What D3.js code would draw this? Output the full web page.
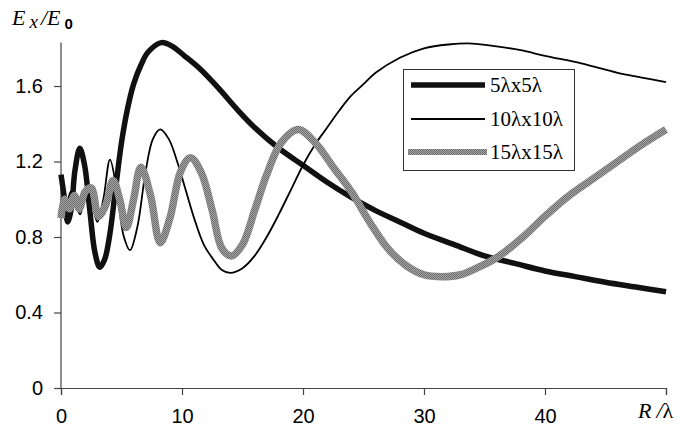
<!DOCTYPE html>
<html>
<head>
<meta charset="utf-8">
<script src="https://cdn.jsdelivr.net/npm/d3@7/dist/d3.min.js"></script>
<style>
  html, body { margin: 0; padding: 0; background: #fff; }
  svg { display: block; }
  .tick text { font-family: Arial, "Liberation Sans", sans-serif; font-size: 20px; fill: #000; }
</style>
</head>
<body>
<svg id="chart" width="684" height="432"></svg>
<script>
// Field ratio Ex/E0 against distance R/λ for three aperture sizes
const r5  = [0, 0.25, 0.55, 0.85, 1.15, 1.55, 1.95, 2.4, 2.8, 3.2, 3.6, 4.0, 4.5, 5.0, 5.5, 6.0, 6.6, 7.2, 8.3, 9.2, 10.2, 11.5, 13.0, 14.5, 16, 18, 20, 22, 24, 26, 28, 30, 32.5, 35, 37.5, 40, 42.5, 45, 47.5, 50];
const e5  = [1.13, 1.02, 0.88, 0.95, 1.15, 1.27, 1.18, 0.93, 0.72, 0.64, 0.68, 0.80, 1.05, 1.30, 1.48, 1.61, 1.71, 1.78, 1.83, 1.81, 1.76, 1.69, 1.59, 1.48, 1.38, 1.27, 1.18, 1.09, 1.01, 0.94, 0.88, 0.82, 0.76, 0.70, 0.66, 0.62, 0.59, 0.56, 0.535, 0.51];

const r10 = [0, 0.4, 0.8, 1.2, 1.6, 2.0, 2.5, 3.0, 3.5, 4.05, 4.6, 5.2, 5.7, 6.3, 7.0, 7.6, 8.2, 8.9, 9.6, 10.3, 11.0, 11.8, 12.6, 13.3, 14.0, 15.0, 16.0, 17.0, 18.0, 19.0, 20.0, 21.0, 22.0, 23.0, 24.0, 25.0, 26.0, 28.0, 30.0, 32.0, 34.0, 36.0, 38.0, 40.0, 43.0, 46.0, 48.0, 50.0];
const e10 = [1.0, 0.96, 1.04, 0.97, 0.92, 1.05, 1.00, 0.88, 1.0, 1.21, 1.05, 0.80, 0.73, 0.85, 1.15, 1.32, 1.37, 1.32, 1.20, 1.05, 0.90, 0.76, 0.68, 0.625, 0.61, 0.635, 0.70, 0.80, 0.92, 1.05, 1.18, 1.29, 1.38, 1.47, 1.55, 1.61, 1.67, 1.75, 1.80, 1.82, 1.825, 1.81, 1.79, 1.76, 1.72, 1.67, 1.645, 1.62];

const r15 = [0, 0.3, 0.7, 1.1, 1.5, 2.0, 2.5, 3.1, 3.7, 4.3, 4.85, 5.4, 6.0, 6.6, 7.4, 8.2, 9.0, 9.9, 10.7, 11.6, 12.5, 13.3, 14.1, 15.0, 16.0, 17.0, 18.2, 19.6, 21.0, 22.5, 24, 25.5, 27, 28.5, 30, 31.5, 33, 34.5, 36, 38, 40, 42, 44, 46, 48, 50];
const e15 = [0.90, 1.00, 0.95, 1.02, 0.95, 1.04, 1.06, 0.91, 0.97, 1.10, 1.00, 0.85, 1.00, 1.17, 1.02, 0.77, 0.90, 1.15, 1.22, 1.14, 0.94, 0.74, 0.70, 0.76, 0.94, 1.13, 1.30, 1.37, 1.30, 1.17, 1.04, 0.88, 0.74, 0.65, 0.60, 0.59, 0.60, 0.64, 0.69, 0.79, 0.91, 1.02, 1.11, 1.20, 1.29, 1.37];

const seriesNames = ["5λx5λ", "10λx10λ", "15λx15λ"];
const xTicks = [0, 10, 20, 30, 40, 50];
const xTickLabels = ["0", "10", "20", "30", "40", ""];
const yTicks = [0, 0.4, 0.8, 1.2, 1.6];
const yTickLabels = ["0", "0.4", "0.8", "1.2", "1.6"];

const svg = d3.select("#chart");

// Textured gray fill for the third curve
const defs = svg.append("defs");
const pat = defs.append("pattern")
  .attr("id", "grayTex").attr("patternUnits", "userSpaceOnUse")
  .attr("width", 2).attr("height", 2);
pat.append("rect").attr("width", 2).attr("height", 2).attr("fill", "#a4a4a4");
pat.append("rect").attr("width", 1).attr("height", 1).attr("fill", "#6e6e6e");
pat.append("rect").attr("x", 1).attr("y", 1).attr("width", 1).attr("height", 1).attr("fill", "#6e6e6e");

const x = d3.scaleLinear().domain([0, 50]).range([61, 666]);
const y = d3.scaleLinear().domain([0, 1.83]).range([388, 42.6]);

const axisColor = "#444";

// X axis
const gx = svg.append("g").attr("transform", `translate(0,${y(0)})`)
  .call(d3.axisBottom(x).tickValues(xTicks).tickSize(7).tickPadding(14)
    .tickFormat((d, i) => xTickLabels[i]));
gx.select(".domain").attr("stroke", axisColor).attr("stroke-width", 1.2);
gx.selectAll(".tick line").attr("stroke", axisColor).attr("stroke-width", 1.2);

// Y axis
const gy = svg.append("g").attr("transform", `translate(${x(0)},0)`)
  .call(d3.axisLeft(y).tickValues(yTicks).tickSize(7).tickPadding(11)
    .tickFormat((d, i) => yTickLabels[i]));
gy.select(".domain").attr("stroke", axisColor).attr("stroke-width", 1.2)
  .attr("d", `M0,${y(0)}V${y(1.83)}`);
gy.selectAll(".tick line").attr("stroke", axisColor).attr("stroke-width", 1.2);

// Curves
const line = d3.line().x(d => x(d[0])).y(d => y(d[1])).curve(d3.curveCatmullRom.alpha(0.5));
const pair = (rs, es) => rs.map((r, i) => [r, es[i]]);

const styles = [
  { stroke: "#111", width: 5.5 },
  { stroke: "#000", width: 1.8 },
  { stroke: "url(#grayTex)", width: 7.5 }
];
const data = [pair(r5, e5), pair(r10, e10), pair(r15, e15)];

data.forEach((d, i) => {
  svg.append("path").datum(d)
    .attr("fill", "none")
    .attr("stroke", styles[i].stroke)
    .attr("stroke-width", styles[i].width)
    .attr("stroke-linejoin", "round")
    .attr("d", line);
});

// Legend
const lg = svg.append("g");
lg.append("rect").attr("x", 403.5).attr("y", 69.5).attr("width", 171).attr("height", 101)
  .attr("fill", "#fff").attr("stroke", "#333").attr("stroke-width", 1);
const legY = [85, 119, 152];
seriesNames.forEach((name, i) => {
  lg.append("line").attr("x1", i === 2 ? 408 : 411).attr("x2", i === 2 ? 487 : 485)
    .attr("y1", legY[i]).attr("y2", legY[i])
    .attr("stroke", styles[i].stroke).attr("stroke-width", i === 2 ? 6 : styles[i].width);
  lg.append("text").attr("x", 490).attr("y", legY[i] + 7)
    .attr("font-family", "'Liberation Serif', 'Times New Roman', serif")
    .attr("font-size", 21).attr("fill", "#000").text(name);
});

// Axis titles
const serif = "'Liberation Serif', 'Times New Roman', serif";
const yt = svg.append("text").attr("x", 12).attr("y", 25)
  .attr("font-family", serif)
  .attr("font-style", "italic").attr("font-size", 22).attr("fill", "#000");
yt.append("tspan").text("E");
yt.append("tspan").attr("dx", 4).attr("dy", 3).attr("font-size", 19).text("x");
yt.append("tspan").attr("dx", 3).attr("dy", -3).text("/E");
yt.append("tspan").attr("dx", 4).attr("dy", 4)
  .attr("font-family", "Arial, 'Liberation Sans', sans-serif")
  .attr("font-style", "normal").attr("font-weight", "bold").attr("font-size", 15).text("0");

const xt = svg.append("text").attr("x", 638).attr("y", 418)
  .attr("font-family", serif)
  .attr("font-style", "italic").attr("font-size", 22).attr("fill", "#000");
xt.append("tspan").text("R");
xt.append("tspan").attr("dx", 5).text("/");
xt.append("tspan").attr("font-style", "normal").text("λ");
</script>
</body>
</html>
